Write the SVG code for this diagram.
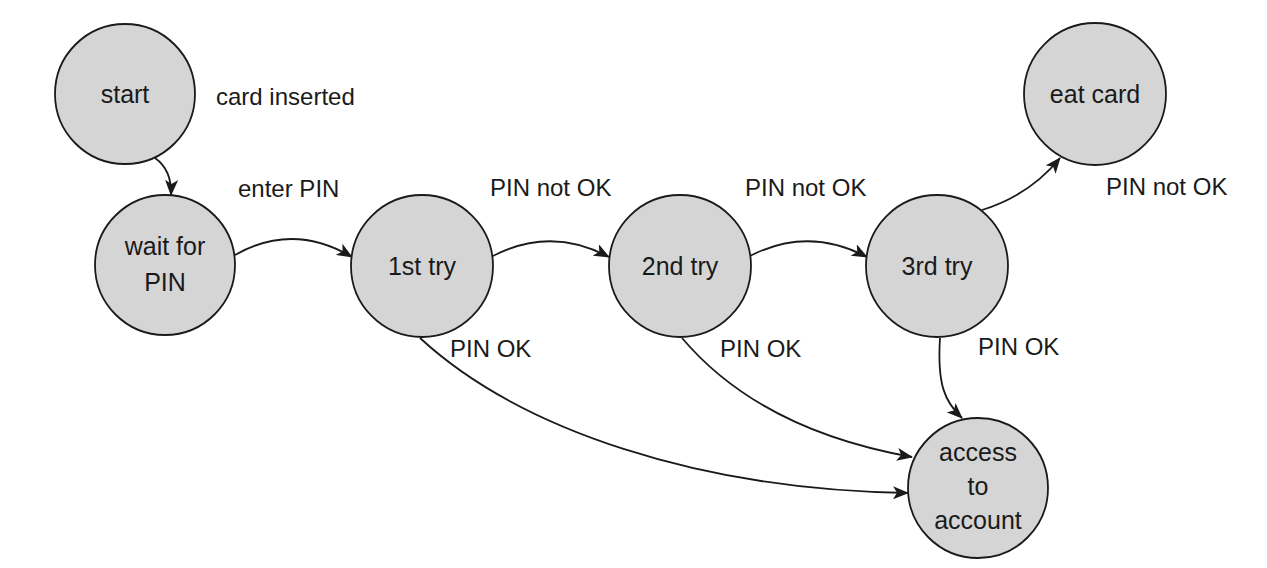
<svg xmlns="http://www.w3.org/2000/svg" width="1267" height="568" viewBox="0 0 1267 568">
<style>
.node{fill:#d5d5d5;stroke:#1a1a1a;stroke-width:1.8}
text{font-family:"Liberation Sans",Arial,sans-serif;font-size:24px;fill:#1a1a1a}
.c{text-anchor:middle;font-size:25px}
.edge{fill:none;stroke:#1a1a1a;stroke-width:1.8;marker-end:url(#arr)}
</style>
<defs>
<marker id="arr" markerUnits="userSpaceOnUse" markerWidth="17" markerHeight="13" refX="15" refY="6.5" orient="auto">
<path d="M0,0 L16,6.5 L0,13 L4,6.5 Z" fill="#1a1a1a"/>
</marker>
</defs>
<rect width="1267" height="568" fill="#ffffff"/>
<g id="connectors">
<path class="edge" d="M155,158 Q172,170 171,195"/>
<path class="edge" d="M235,255 Q293,222 352,257"/>
<path class="edge" d="M493,256 Q551,226 609,257"/>
<path class="edge" d="M750,256 Q808,226 867,257"/>
<path class="edge" d="M982,210 Q1030,195 1060,158"/>
<path class="edge" d="M940,338 C937,385 945,402 962,418"/>
<path class="edge" d="M420,338 C520,430 700,490 908,493"/>
<path class="edge" d="M682,338 Q760,430 912,457"/>
</g>
<g id="labels">
<text x="216" y="105">card inserted</text>
<text x="238" y="197">enter PIN</text>
<text x="490" y="196">PIN not OK</text>
<text x="745" y="196">PIN not OK</text>
<text x="1106" y="195">PIN not OK</text>
<text x="450" y="357">PIN OK</text>
<text x="720" y="357">PIN OK</text>
<text x="978" y="355">PIN OK</text>
</g>
<g id="start"><circle class="node" cx="125" cy="94" r="70"/><text class="c" x="125" y="103">start</text></g>
<g id="wait"><circle class="node" cx="165" cy="265" r="70"/><text class="c" x="165" y="255">wait for</text><text class="c" x="165" y="291">PIN</text></g>
<g id="try1"><circle class="node" cx="422" cy="266" r="71"/><text class="c" x="422" y="275">1st try</text></g>
<g id="try2"><circle class="node" cx="680" cy="266" r="71"/><text class="c" x="680" y="275">2nd try</text></g>
<g id="try3"><circle class="node" cx="937" cy="266" r="71"/><text class="c" x="937" y="275">3rd try</text></g>
<g id="eat"><circle class="node" cx="1095" cy="94" r="71"/><text class="c" x="1095" y="103">eat card</text></g>
<g id="access"><circle class="node" cx="978" cy="488" r="70"/><text class="c" x="978" y="461">access</text><text class="c" x="978" y="495">to</text><text class="c" x="978" y="529">account</text></g>
</svg>
